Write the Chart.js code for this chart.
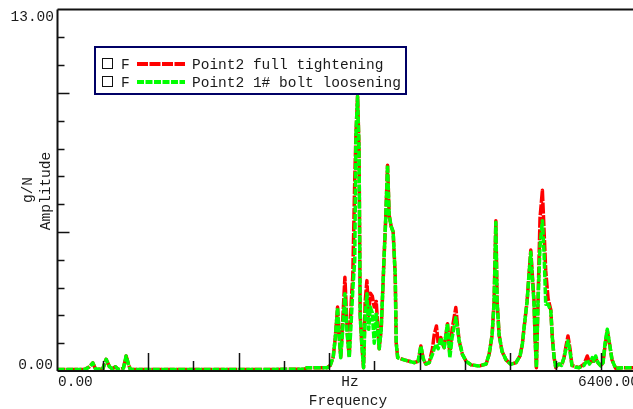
<!DOCTYPE html>
<html>
<head>
<meta charset="utf-8">
<script src="https://cdn.jsdelivr.net/npm/chart.js@4"></script>
<style>
html, body { margin: 0; padding: 0; background: #fff; overflow: hidden; }
#caja { width: 660px; height: 409px; position: relative; }
</style>
</head>
<body>
<div id="caja"><canvas id="espectro"></canvas></div>
<script>
// frecuencias (Hz)
var freqHz = [
  0, 298, 353, 390, 419, 497, 537, 574, 607, 640, 673, 728, 758, 783, 805,
  2725, 2759, 2979, 3012, 3045, 3068, 3093, 3112, 3128, 3150, 3174, 3200, 3222, 3244, 3261,
  3283, 3296, 3314, 3330, 3343, 3360, 3380, 3398, 3417, 3437, 3454, 3476, 3498, 3520, 3553,
  3575, 3608, 3625, 3645, 3663, 3685, 3707, 3730, 3741, 3757, 3829, 3939, 3983, 4013, 4038,
  4068, 4105, 4141, 4160, 4185, 4204, 4234, 4248, 4270, 4307, 4333, 4358, 4399, 4419, 4436,
  4472, 4513, 4568, 4656, 4733, 4767, 4800, 4822, 4841, 4855, 4877, 4910, 4954, 5006, 5064,
  5109, 5134, 5153, 5186, 5208, 5227, 5241, 5263, 5274, 5289, 5307, 5329, 5355, 5374, 5392,
  5418, 5448, 5465, 5484, 5503, 5518, 5539, 5567, 5594, 5616, 5638, 5660, 5682, 5704, 5760,
  5815, 5851, 5876, 5906, 5925, 5944, 5969, 5999, 6025, 6047, 6072, 6096, 6124, 6164, 6256, 6400
];

// Point2 full tightening (rojo)
var ampApretado = [
  .05, .05, .15, .29, .08, .05, .42, .15, .08, .15, .05, .10, .54, .25, .05,
  .06, .12, .12, .20, .50, 1.2, 2.3, 1.2, .5, 1.8, 3.37, 1.4, .5, 2.5, 3.4,
  6.9, 8.5, 9.9, 8.0, 2.0, 1.0, .12, 2.5, 3.25, 2.0, 2.8, 2.7, 2.3, 2.5, .8,
  1.5, 4.2, 5.5, 7.4, 5.6, 5.2, 5.0, 3.4, 1.0, .48, .40, .30, .35, .90, .45,
  .25, .30, .80, 1.3, 1.62, 1.0, 1.2, 1.0, .84, 1.7, .6, 1.5, 2.28, 1.6, 1.08,
  .60, .35, .22, .18, .25, .60, 1.3, 2.5, 5.4, 2.5, 1.3, .70, .40, .24, .30,
  .55, .97, 1.56, 2.5, 3.5, 4.35, 3.6, 2.5, 1.2, .12, 2.5, 5.5, 6.5, 5.0, 3.6,
  2.6, 2.2, 1.2, .5, .12, .20, .25, .20, .48, .9, 1.26, .8, .2, .18, .12,
  .25, .54, .3, .35, .35, .45, .3, .2, .3, .9, 1.45, 1.0, .4, .1, .12, .12
];

// Point2 1# bolt loosening (verde)
var ampSuelto = [
  .05, .05, .15, .29, .08, .05, .42, .15, .08, .15, .05, .10, .54, .25, .05,
  .06, .12, .12, .20, .50, 1.2, 2.28, 1.2, .48, 1.5, 2.78, 1.3, .48, 1.8, 2.9,
  4.0, 8.5, 9.87, 8.0, 2.0, 1.0, .12, 2.0, 2.78, 1.5, 2.3, 2.1, 1.0, 2.1, .8,
  1.5, 4.2, 5.5, 7.4, 5.6, 5.2, 5.0, 3.4, 1.0, .48, .40, .30, .35, .90, .45,
  .25, .30, .60, .80, .97, .80, 1.2, 1.0, .84, 1.7, .48, 1.2, 1.92, 1.5, 1.08,
  .60, .35, .22, .18, .25, .60, 1.3, 2.5, 5.35, 2.5, 1.3, .70, .40, .24, .30,
  .55, .97, 1.56, 2.5, 3.5, 4.27, 3.5, 2.4, 1.2, .12, 2.5, 4.5, 5.4, 4.2, 2.4,
  2.4, 2.17, 1.2, .5, .12, .20, .25, .20, .48, .80, 1.08, .70, .20, .15, .12,
  .20, .40, .25, .48, .35, .54, .30, .18, .30, 1.0, 1.5, 1.0, .40, .10, .12, .12
];

var nombres = ['Point2 full tightening', 'Point2 1# bolt loosening'];
var colores = ['#ff0000', '#00ff00'];
var guiones = [[11, 1.5], [7, 1.5]];

var fuente = '14.5px "Liberation Mono", "DejaVu Sans Mono", monospace';

function puntos(amps) {
  return freqHz.map(function (f, i) { return { x: f, y: amps[i] }; });
}

// ejes, marcas, textos y leyenda dibujados a mano
var marco = {
  id: 'marco',
  afterDatasetsDraw: function (chart) {
    var c = chart.ctx, a = chart.chartArea;
    var sx = chart.scales.x, sy = chart.scales.y;
    c.save();
    c.strokeStyle = '#111';
    c.lineWidth = 2;
    c.beginPath();
    c.moveTo(a.left, a.top); c.lineTo(chart.width, a.top);
    c.moveTo(a.left, a.top); c.lineTo(a.left, a.bottom);
    c.moveTo(a.left, a.bottom); c.lineTo(chart.width, a.bottom);
    c.stroke();

    // marcas eje y
    c.lineWidth = 1.5;
    c.beginPath();
    for (var v = 1; v <= 12; v++) {
      var py = Math.round(sy.getPixelForValue(v)) + 0.5;
      var largo = (v % 5 === 0) ? 12 : 7;
      c.moveTo(a.left, py); c.lineTo(a.left + largo, py);
    }
    // marcas eje x
    for (var f = 500; f < 6400; f += 500) {
      var px = Math.round(sx.getPixelForValue(f)) + 0.5;
      var alto = (f % 1000 === 0) ? 18 : 10;
      c.moveTo(px, a.bottom); c.lineTo(px, a.bottom - alto);
    }
    c.stroke();

    // textos de ejes
    c.fillStyle = '#1a1a1a';
    c.font = fuente;
    c.textBaseline = 'middle';
    c.textAlign = 'right';
    c.fillText('13.00', 54, 17);
    c.fillText('0.00', 53, 365);
    c.textAlign = 'left';
    c.fillText('0.00', 58, 382);
    c.fillText('6400.00', 578, 382);
    c.textAlign = 'center';
    c.fillText('Hz', 350, 382);
    c.fillText('Frequency', 348, 401);

    c.save();
    c.translate(28, 190);
    c.rotate(-Math.PI / 2);
    c.fillText('g/N', 0, 0);
    c.restore();
    c.save();
    c.translate(46, 191);
    c.rotate(-Math.PI / 2);
    c.fillText('Amplitude', 0, 0);
    c.restore();

    // leyenda
    c.fillStyle = '#fff';
    c.fillRect(94, 46, 313, 49);
    c.strokeStyle = '#000066';
    c.lineWidth = 2;
    c.strokeRect(95, 47, 311, 47);
    var filas = [64, 82];
    for (var i = 0; i < 2; i++) {
      var yy = filas[i];
      c.strokeStyle = '#111';
      c.lineWidth = 1;
      c.strokeRect(102.5, yy - 5.5, 10, 10);
      c.fillStyle = '#1a1a1a';
      c.textAlign = 'left';
      c.fillText('F', 121, yy + 1);
      c.strokeStyle = colores[i];
      c.lineWidth = 4;
      c.setLineDash(guiones[i]);
      c.beginPath();
      c.moveTo(137, yy); c.lineTo(185, yy);
      c.stroke();
      c.setLineDash([]);
      c.fillText(nombres[i], 192, yy + 1);
    }
    c.restore();
  }
};

var ctx = document.getElementById('espectro').getContext('2d');
window.mi_grafico = new Chart(ctx, {
  type: 'line',
  data: {
    datasets: [{
      label: nombres[1],
      data: puntos(ampSuelto),
      borderColor: colores[1],
      borderWidth: 3.5,
      borderDash: guiones[1],
      pointRadius: 0,
      order: 0
    }, {
      label: nombres[0],
      data: puntos(ampApretado),
      borderColor: colores[0],
      borderWidth: 3.5,
      borderDash: guiones[0],
      borderDashOffset: 3,
      pointRadius: 0,
      order: 1
    }]
  },
  options: {
    responsive: true,
    maintainAspectRatio: false,
    animation: false,
    layout: { padding: { left: 57.5, top: 9.5, right: 23, bottom: 38 } },
    elements: { line: { tension: 0, borderJoinStyle: 'round' } },
    plugins: { legend: { display: false }, tooltip: { enabled: false } },
    scales: {
      x: { type: 'linear', min: 0, max: 6400, display: false },
      y: { type: 'linear', min: 0, max: 13, display: false }
    }
  },
  plugins: [marco]
});
</script>
</body>
</html>
